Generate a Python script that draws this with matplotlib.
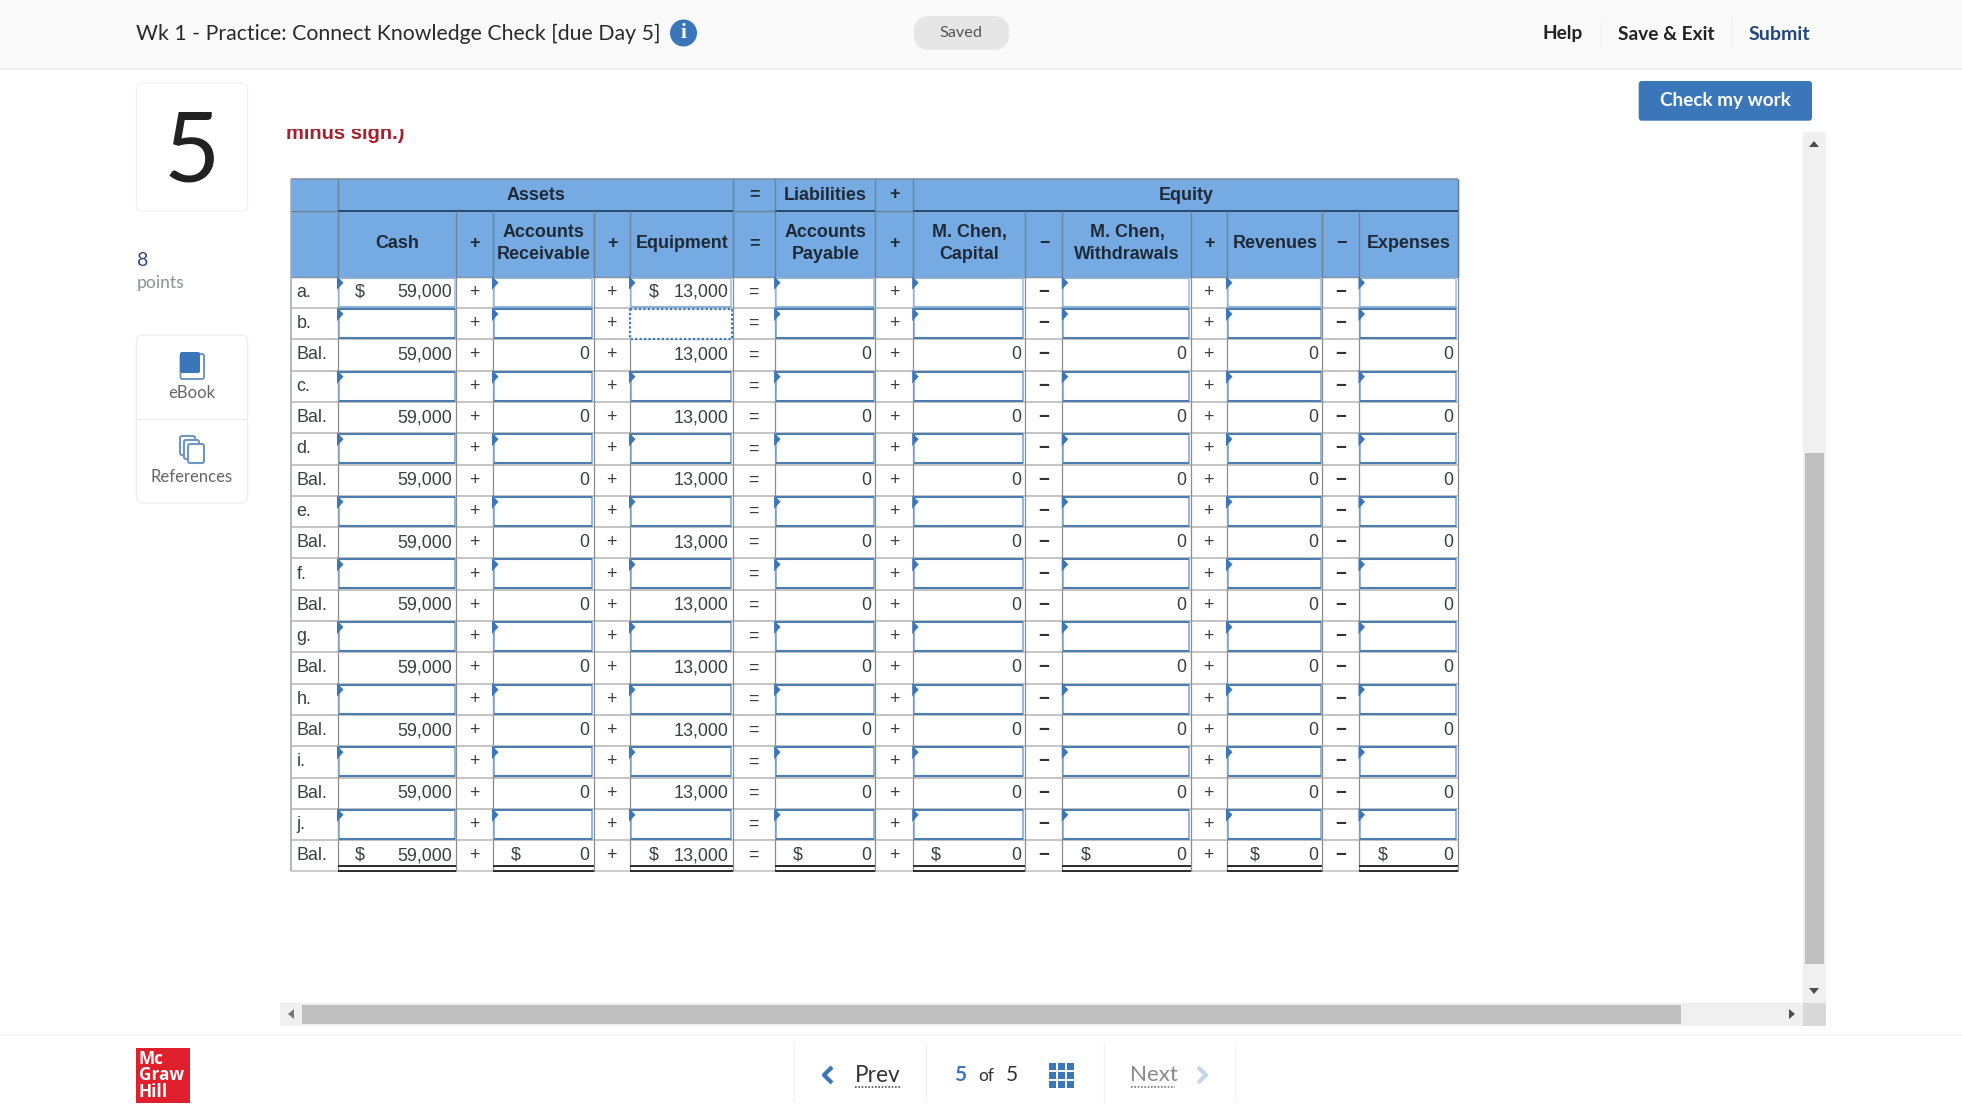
import matplotlib
matplotlib.use("Agg")
import matplotlib.pyplot as plt
from matplotlib.patches import Rectangle, FancyBboxPatch, Circle

# -------------------------------
# Table data
# -------------------------------
row_labels = ["a.", "b.", "Bal.", "c.", "Bal.", "d.", "Bal.", "e.", "Bal.", "f.", "Bal.",
              "g.", "Bal.", "h.", "Bal.", "i.", "Bal.", "j.", "Bal."]

cash = [59000, None, 59000, None, 59000, None, 59000, None, 59000, None, 59000,
        None, 59000, None, 59000, None, 59000, None, 59000]
receivable = [None, None, 0, None, 0, None, 0, None, 0, None, 0, None, 0, None, 0, None, 0, None, 0]
equipment = [13000, None, 13000, None, 13000, None, 13000, None, 13000, None, 13000,
             None, 13000, None, 13000, None, 13000, None, 13000]
payable = [None, None, 0, None, 0, None, 0, None, 0, None, 0, None, 0, None, 0, None, 0, None, 0]
capital = [None, None, 0, None, 0, None, 0, None, 0, None, 0, None, 0, None, 0, None, 0, None, 0]
withdrawals = [None, None, 0, None, 0, None, 0, None, 0, None, 0, None, 0, None, 0, None, 0, None, 0]
revenues = [None, None, 0, None, 0, None, 0, None, 0, None, 0, None, 0, None, 0, None, 0, None, 0]
expenses = [None, None, 0, None, 0, None, 0, None, 0, None, 0, None, 0, None, 0, None, 0, None, 0]

column_names = ["Cash", "+", "Accounts\nReceivable", "+", "Equipment", "=", "Accounts\nPayable", "+",
                "M. Chen,\nCapital", "\u2212", "M. Chen,\nWithdrawals", "+", "Revenues", "\u2212", "Expenses"]
column_values = [cash, None, receivable, None, equipment, None, payable, None,
                 capital, None, withdrawals, None, revenues, None, expenses]

# -------------------------------
# Layout (pixels of the page)
# -------------------------------
x_edges = [290.5, 337.5, 456, 492.5, 593.5, 629.5, 732.5, 774.6, 875, 912.7, 1024.8, 1062.3,
           1190.5, 1226.5, 1322, 1359, 1457.6]
table_top = 178.5
head_mid = 210.5
body_top = 276.7
row_h = 31.3
dollar_x = {0: 360, 2: 516, 4: 654, 6: 798, 8: 936, 10: 1086, 12: 1255, 14: 1383}

HEAD = "#75aae3"
INK = "#1f2a36"
CELL = "#3c3f42"
BLUE = "#3b76bb"
TABLE_FONT = "Liberation Sans"
PAGE_FONT = "Lato"

fig = plt.figure(figsize=(19.62, 11.13), dpi=100, facecolor="white")
ax = fig.add_axes([0, 0, 1, 1])
ax.set_xlim(0, 1962)
ax.set_ylim(1113, 0)
ax.axis("off")


def box(x0, y0, x1, y1, color, ec="none", lw=0, z=1):
    ax.add_patch(Rectangle((x0, y0), x1 - x0, y1 - y0, facecolor=color, edgecolor=ec, linewidth=lw, zorder=z))


def line(xs, ys, color, lw=1, z=2, **kw):
    ax.plot(xs, ys, color=color, lw=lw, zorder=z, solid_capstyle="butt", **kw)


def rounded(x0, y0, x1, y1, r, color, ec="none", lw=0, z=1):
    ax.add_patch(FancyBboxPatch((x0 + r, y0 + r), x1 - x0 - 2 * r, y1 - y0 - 2 * r,
                                boxstyle=f"round,pad={r}", facecolor=color, edgecolor=ec, linewidth=lw, zorder=z))


def page_text(x, y, s, size, color, ha="center", weight="normal", z=5):
    return ax.text(x, y, s, fontsize=size, color=color, ha=ha, va="center", fontweight=weight,
                   family=PAGE_FONT, zorder=z)


def cell_text(x, y, s, size=12.9, color=CELL, ha="center", weight="normal"):
    ax.text(x, y, s, fontsize=size, color=color, ha=ha, va="center", fontweight=weight,
            family=TABLE_FONT, zorder=6, linespacing=1.37)


# -------------------------------
# Page frame
# -------------------------------
box(0, 0, 1962, 69, "#fafafa")
line([0, 1962], [69, 69], "#ececec", 1.2)
page_text(136.5, 33.5, "Wk 1 - Practice: Connect Knowledge Check [due Day 5]", 15.3, "#2a2a2a", ha="left")
ax.add_patch(Circle((683.5, 33), 13.5, facecolor=BLUE, zorder=3))
ax.text(683.5, 33.5, "i", fontsize=15, color="white", ha="center", va="center", fontweight="bold",
        family="Liberation Serif", zorder=5)
rounded(914, 16, 1009, 50, 16, "#e6e6e6")
page_text(961, 33, "Saved", 11.7, "#555555")
page_text(1563, 34, "Help", 13.7, "#222222", weight="bold")
page_text(1666, 34, "Save & Exit", 13.8, "#222222", weight="bold")
page_text(1779, 34, "Submit", 14, "#24487c", weight="bold")
line([1600.7, 1600.7], [20, 48], "#f0f0f0")
line([1730.7, 1730.7], [20, 48], "#f0f0f0")

rounded(1638.7, 81, 1812, 120.7, 3, BLUE)
page_text(1725.5, 100.5, "Check my work", 13.6, "white", weight="bold")

# number card and side panel
rounded(136.5, 83, 247.5, 211, 6, "white", ec="#f2f2f2", lw=1)
page_text(192, 154, "5", 70, "#222222")
page_text(136.5, 260, "8", 14, "#2e4a7d", ha="left")
page_text(136.5, 283, "points", 12.6, "#8d9196", ha="left")
rounded(136.5, 335, 247.5, 503, 6, "white", ec="#eeeeee", lw=1)
line([136.5, 247.5], [419, 419], "#eeeeee")
rounded(180.5, 354, 204, 379, 2, "white", ec="#6f97c6", lw=1.4)
rounded(180, 352, 200, 373, 2, BLUE, z=2)
page_text(192, 393, "eBook", 12, "#666666")
rounded(180, 436, 195, 455, 2, "white", ec="#6f97c6", lw=1.5, z=2)
rounded(184, 440, 199, 459, 2, "white", ec="#6f97c6", lw=1.5, z=3)
rounded(188, 444, 204, 463, 2, "white", ec="#6f97c6", lw=1.5, z=4)
page_text(192, 477, "References", 12, "#666666")

# red question text scrolled away under the top edge
ax.text(286, 133.5, "minus sign.)", fontsize=14.5, color="#a81f2d", ha="left", va="center", fontweight="bold",
        family=TABLE_FONT, zorder=3)
box(280, 100, 460, 129, "white", z=4)

# -------------------------------
# Table header
# -------------------------------
table_bottom = body_top + row_h * len(row_labels)
box(x_edges[0], table_top, x_edges[-1], body_top, HEAD)
line([x_edges[0], x_edges[-1]], [table_top, table_top], "#8091a3", 1.2, z=3)
line([x_edges[0], x_edges[-1]], [body_top, body_top], "#8091a3", 1, z=3)
line([x_edges[0], x_edges[0]], [table_top, table_bottom], "#a8adb2", 1.2, z=3)
line([x_edges[-1], x_edges[-1]], [table_top, body_top], "#8091a3", 1, z=3)
line([x_edges[1], x_edges[1]], [table_top, body_top], "#6f8295", 1, z=3)

group_rows = [("Assets", 1, 6), ("=", 6, 7), ("Liabilities", 7, 8), ("+", 8, 9), ("Equity", 9, 16)]
for name, start, stop in group_rows:
    cell_text((x_edges[start] + x_edges[stop]) / 2 + 0.7, (table_top + head_mid) / 2 + 0.5, name,
              color=INK, weight="bold")
    line([x_edges[stop], x_edges[stop]], [table_top, head_mid], "#6f8295", 1, z=3)
    if name not in ("=", "+"):
        line([x_edges[start], x_edges[stop]], [head_mid, head_mid], "#27496d", 1.4, z=3)
    else:
        line([x_edges[start], x_edges[stop]], [head_mid, head_mid], "#6f8295", 1, z=3)
line([x_edges[0], x_edges[1]], [head_mid, head_mid], "#6f8295", 1, z=3)

for c, name in enumerate(column_names):
    x0, x1 = x_edges[c + 1], x_edges[c + 2]
    cell_text((x0 + x1) / 2 + 0.7, (head_mid + body_top) / 2, name, color=INK, weight="bold")
    line([x1, x1], [head_mid, body_top], "#6f8295", 1, z=3)

# -------------------------------
# Table body
# -------------------------------
for r, label in enumerate(row_labels):
    top = body_top + r * row_h
    bottom = top + row_h
    mid = top + row_h / 2
    is_balance = label == "Bal."
    line([x_edges[0], x_edges[-1]], [bottom, bottom], "#c4c4c4", 1.4 if r < len(row_labels) - 1 else 1.2, z=2)
    line([x_edges[1], x_edges[1]], [top, bottom], "#8c8c8c", 0.9, z=2)
    cell_text(x_edges[0] + 6, mid, label, ha="left")

    for c, name in enumerate(column_names):
        x0, x1 = x_edges[c + 1], x_edges[c + 2]
        values = column_values[c]
        line([x1, x1], [top, bottom], "#8c8c8c", 0.9, z=2)
        if values is None:
            cell_text((x0 + x1) / 2, mid, name, weight="bold" if name == "\u2212" else "normal",
                      color="#333333" if name == "\u2212" else CELL, size=13.5 if name == "\u2212" else 12.9)
            continue
        if not is_balance:
            if r == 1 and c == 4:
                ax.add_patch(Rectangle((x0 + 0.5, top + 1), x1 - x0 - 1, row_h - 1.5, facecolor="white",
                                       edgecolor=BLUE, linewidth=1.6, linestyle=(0, (1, 1)), zorder=4))
            else:
                side = "#9dbcdc" if r == 0 else "#7ba3cc"
                flat = "#8db1d6" if r == 0 else "#4c7db0"
                box(x0 + 1, top + 1, x1 - 1.5, bottom - 1.2, "white", ec=side, lw=1.1, z=4)
                line([x0 + 1, x1 - 1.5], [top + 1, top + 1], flat, 1.5, z=4.5)
                line([x0 + 1, x1 - 1.5], [bottom - 1.2, bottom - 1.2], flat, 1.5, z=4.5)
                ax.fill([x0 - 0.5, x0 + 6, x0 - 0.5], [top - 0.5, top + 6, top + 13], color=BLUE, lw=0, zorder=5)
        v = values[r]
        if v is not None:
            cell_text(x1 - 4, mid, f"{v:,}", ha="right")
            if r in (0, len(row_labels) - 1):
                cell_text(dollar_x[c], mid - 0.5, "$")
        if r == len(row_labels) - 1:
            line([x0, x1], [bottom - 5.2, bottom - 5.2], "#2b2b2b", 1.4, z=5)
            line([x0, x1], [bottom - 0.8, bottom - 0.8], "#2b2b2b", 1.4, z=5)

# -------------------------------
# Scrollbars
# -------------------------------
box(1803, 131.7, 1825.7, 1003, "#f0f0f0")
box(1805, 453, 1824, 964, "#bfbfbf", z=2)
box(280, 1003, 1803, 1026, "#f0f0f0")
box(302, 1005, 1681, 1024, "#bfbfbf", z=2)
box(1803, 1003, 1825.7, 1026, "#d9d9d9")
ax.fill([1809, 1819, 1814], [147, 147, 141], color="#4d4d4d", lw=0, zorder=3)
ax.fill([1809, 1819, 1814], [988, 988, 994], color="#4d4d4d", lw=0, zorder=3)
ax.fill([1789, 1789, 1795], [1009, 1019, 1014], color="#4d4d4d", lw=0, zorder=3)
ax.fill([294, 294, 288], [1009, 1019, 1014], color="#777777", lw=0, zorder=3)

# -------------------------------
# Footer
# -------------------------------
line([0, 1962], [1035, 1035], "#f3f3f3", 1.2)
box(136, 1048, 190, 1103, "#e01f2d")
ax.text(139, 1075.5, "Mc\nGraw\nHill", fontsize=12.4, color="white", ha="left", va="center", fontweight="bold",
        family="Open Sans", linespacing=0.88, zorder=3)
for sep_x in [794, 926, 1104, 1235]:
    line([sep_x, sep_x], [1042, 1102], "#f3f3f3")
line([832, 824, 832], [1067, 1075, 1083], BLUE, 3)
page_text(877.5, 1075, "Prev", 16.3, "#333333")
line([855, 900], [1087, 1087], "#555555", 1.2, linestyle=(0, (1, 1)))
page_text(960, 1075, "5", 15, BLUE, weight="bold")
page_text(986, 1076, "of", 12.5, "#333333")
page_text(1012, 1075, "5", 15, "#333333")
for gx in [1049, 1058, 1067]:
    for gy in [1063, 1072, 1081]:
        box(gx, gy, gx + 7, gy + 7, BLUE)
page_text(1153.5, 1075, "Next", 16.1, "#8a8a8a")
line([1131, 1175], [1087, 1087], "#777777", 1.2, linestyle=(0, (1, 1)))
line([1198, 1206, 1198], [1067, 1075, 1083], "#c6d7ea", 3)

fig.savefig("out.png", dpi=100)
